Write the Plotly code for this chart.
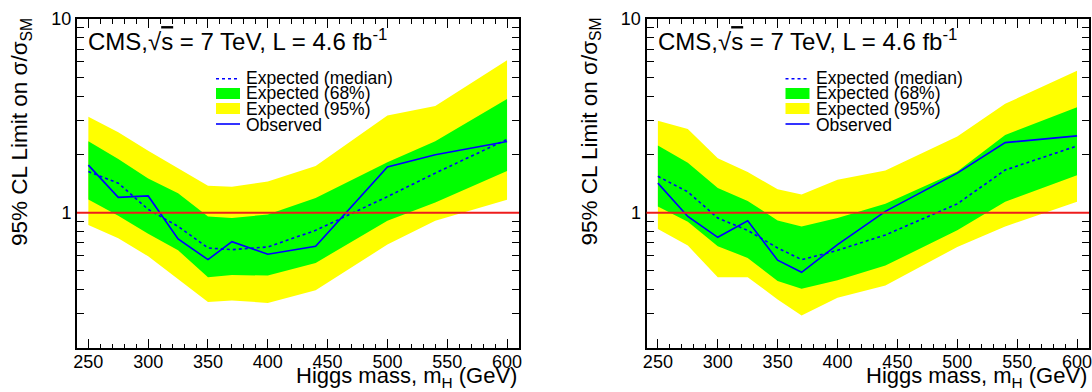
import plotly.graph_objects as go

# ---------------- data ----------------
mass = [250, 275, 300, 325, 350, 370, 400, 440, 500, 540, 600]

# left panel
left_obs = [1.76, 1.20, 1.22, 0.731, 0.572, 0.708, 0.61, 0.67, 1.72, 1.99, 2.33]
left_exp = [1.63, 1.42, 1.04, 0.849, 0.657, 0.644, 0.665, 0.81, 1.21, 1.60, 2.39]
left_up68 = [2.34, 1.89, 1.50, 1.26, 0.956, 0.937, 0.979, 1.19, 1.82, 2.34, 3.86]
left_dn68 = [1.17, 0.964, 0.779, 0.639, 0.464, 0.477, 0.473, 0.550, 0.908, 1.129, 1.64]
left_up95 = [3.13, 2.60, 2.09, 1.70, 1.375, 1.36, 1.45, 1.74, 3.17, 3.55, 6.12]
left_dn95 = [0.863, 0.737, 0.595, 0.455, 0.346, 0.352, 0.342, 0.398, 0.684, 0.908, 1.165]

# right panel
right_obs = [1.42, 0.956, 0.746, 0.908, 0.568, 0.492, 0.684, 1.015, 1.60, 2.30, 2.49]
right_exp = [1.54, 1.28, 0.938, 0.81, 0.657, 0.572, 0.639, 0.767, 1.11, 1.66, 2.21]
right_up68 = [2.22, 1.81, 1.34, 1.15, 0.912, 0.849, 0.938, 1.11, 1.63, 2.52, 3.50]
right_dn68 = [1.077, 0.898, 0.670, 0.584, 0.443, 0.404, 0.448, 0.533, 0.810, 1.14, 1.56]
right_up95 = [2.98, 2.70, 1.91, 1.62, 1.32, 1.24, 1.48, 1.65, 2.47, 3.65, 5.40]
right_dn95 = [0.823, 0.676, 0.464, 0.464, 0.356, 0.294, 0.363, 0.420, 0.665, 0.849, 1.14]

x_ticks = [250, 300, 350, 400, 450, 500, 550, 600]
y_ticks = [1, 10]
y_minor = [0.2, 0.3, 0.4, 0.5, 0.6, 0.7, 0.8, 0.9, 2, 3, 4, 5, 6, 7, 8, 9]

legend_labels = ["Expected (median)", "Expected (68%)", "Expected (95%)", "Observed"]
cms_text = "CMS,\u221a<span style='text-decoration:overline'>s</span> = 7 TeV, L = 4.6 fb<sup>-1</sup>"
x_title = "Higgs mass, m<sub>H</sub> (GeV)"
y_title = "95% CL Limit on \u03c3/\u03c3<sub>SM</sub>"

# ---------------- style ----------------
FONT = "Liberation Sans, Arial, Helvetica, sans-serif"
YELLOW = "#ffff00"
GREEN = "#00ff00"
BLUE = "#0000ff"
RED = "#ee1c1c"
W, H = 1092, 392

fig = go.Figure()

panels = [
    dict(xa="x", ya="y", obs=left_obs, exp=left_exp, u68=left_up68, d68=left_dn68,
         u95=left_up95, d95=left_dn95),
    dict(xa="x2", ya="y2", obs=right_obs, exp=right_exp, u68=right_up68, d68=right_dn68,
         u95=right_up95, d95=right_dn95),
]

for p in panels:
    band_x = mass + mass[::-1]
    fig.add_trace(go.Scatter(x=band_x, y=p["u95"] + p["d95"][::-1], fill="toself",
                             fillcolor=YELLOW, line=dict(width=0), mode="lines",
                             hoverinfo="skip", showlegend=False, xaxis=p["xa"], yaxis=p["ya"]))
    fig.add_trace(go.Scatter(x=band_x, y=p["u68"] + p["d68"][::-1], fill="toself",
                             fillcolor=GREEN, line=dict(width=0), mode="lines",
                             hoverinfo="skip", showlegend=False, xaxis=p["xa"], yaxis=p["ya"]))
    fig.add_trace(go.Scatter(x=mass, y=p["exp"], mode="lines",
                             line=dict(color=BLUE, width=1.6, dash="3px,3px"),
                             showlegend=False, xaxis=p["xa"], yaxis=p["ya"]))
    fig.add_trace(go.Scatter(x=mass, y=p["obs"], mode="lines",
                             line=dict(color=BLUE, width=1.6),
                             showlegend=False, xaxis=p["xa"], yaxis=p["ya"]))

def px_x(px):
    return px / W

def px_y(py):
    return 1 - py / H

ax_top, ax_bot = 19, 348
domains = [(77, 519), (646.5, 1089)]

def xaxis_cfg(dom):
    return dict(
        domain=[px_x(dom[0]), px_x(dom[1])], range=[240.5, 610], automargin=False,
        tickmode="array", tickvals=x_ticks, ticks="inside", ticklen=9, tickwidth=1,
        tickcolor="black", showline=True, linecolor="black", linewidth=2, mirror="ticks",
        showgrid=False, zeroline=False, ticklabelstandoff=-4, ticklabeloverflow="allow",
        tickfont=dict(family=FONT, size=18, color="black"),
        minor=dict(dtick=10, tick0=250, ticks="inside", ticklen=4.5, tickcolor="black",
                   tickwidth=1, showgrid=False),
    )

def yaxis_cfg():
    return dict(
        domain=[px_y(ax_bot), px_y(ax_top)], type="log", range=[-0.69897, 1],
        automargin=False, ticklabeloverflow="allow",
        tickmode="array", tickvals=y_ticks, ticktext=["1", "10"], ticks="inside",
        ticklen=13, tickwidth=1, tickcolor="black", showline=True, linecolor="black",
        linewidth=2, mirror="ticks", showgrid=False, zeroline=False,
        tickfont=dict(family=FONT, size=18, color="black"),
        minor=dict(tickvals=y_minor, ticks="inside", ticklen=7, tickcolor="black",
                   tickwidth=1, showgrid=False),
    )

fig.update_layout(
    template="none",
    width=W, height=H, margin=dict(l=0, r=0, t=0, b=0, pad=0), autosize=False,
    paper_bgcolor="white", plot_bgcolor="white", showlegend=False,
    font=dict(family=FONT, color="black"),
    xaxis=dict(**xaxis_cfg(domains[0]), anchor="y"),
    yaxis=dict(**yaxis_cfg(), anchor="x"),
    xaxis2=dict(**xaxis_cfg(domains[1]), anchor="y2"),
    yaxis2=dict(**yaxis_cfg(), anchor="x2"),
)

def dfy(py):
    return (ax_bot - py) / (ax_bot - ax_top)

for i, (xa, ya) in enumerate([("x", "y"), ("x2", "y2")]):
    dom = domains[i]
    width = dom[1] - dom[0]
    xd = f"{xa} domain"
    yd = f"{ya} domain"

    def dfx(px, width=width):
        return (px - 77) / width

    fig.add_shape(type="line", xref=xd, x0=0, x1=1, yref=ya, y0=1, y1=1,
                  line=dict(color=RED, width=2), layer="above")

    fig.add_annotation(xref=xd, yref=yd, x=dfx(86), y=dfy(40), text=cms_text,
                       showarrow=False, xanchor="left", yanchor="middle",
                       font=dict(family=FONT, size=24, color="black"))

    sx0, sx1, tx = dfx(216), dfx(240), dfx(244)
    fig.add_shape(type="line", xref=xd, yref=yd, x0=sx0, x1=sx1, y0=dfy(78.7), y1=dfy(78.7),
                  line=dict(color=BLUE, width=1.6, dash="3px,3px"))
    fig.add_shape(type="rect", xref=xd, yref=yd, x0=sx0, x1=sx1, y0=dfy(99), y1=dfy(88),
                  fillcolor=GREEN, line=dict(width=0))
    fig.add_shape(type="rect", xref=xd, yref=yd, x0=sx0, x1=sx1, y0=dfy(114), y1=dfy(103),
                  fillcolor=YELLOW, line=dict(width=0))
    fig.add_shape(type="line", xref=xd, yref=yd, x0=sx0, x1=sx1, y0=dfy(124), y1=dfy(124),
                  line=dict(color=BLUE, width=1.6))
    for lab, cy in zip(legend_labels, [78.5, 93.5, 108.5, 125]):
        fig.add_annotation(xref=xd, yref=yd, x=tx, y=dfy(cy), text=lab, showarrow=False,
                           xanchor="left", yanchor="middle",
                           font=dict(family=FONT, size=17.5, color="black"))

    fig.add_annotation(xref=xd, yref="paper", x=1, y=px_y(377), text=x_title,
                       showarrow=False, xanchor="right", yanchor="middle",
                       font=dict(family=FONT, size=22, color="black"))
    fig.add_annotation(xref="paper", yref="paper", x=px_x(dom[0] - 56), y=px_y(248),
                       text=y_title, textangle=-90, showarrow=False,
                       xanchor="center", yanchor="bottom",
                       font=dict(family=FONT, size=22.5, color="black"))

fig.write_html("out.html", config={"displayModeBar": False},
               post_script="document.body.style.margin='0';")
